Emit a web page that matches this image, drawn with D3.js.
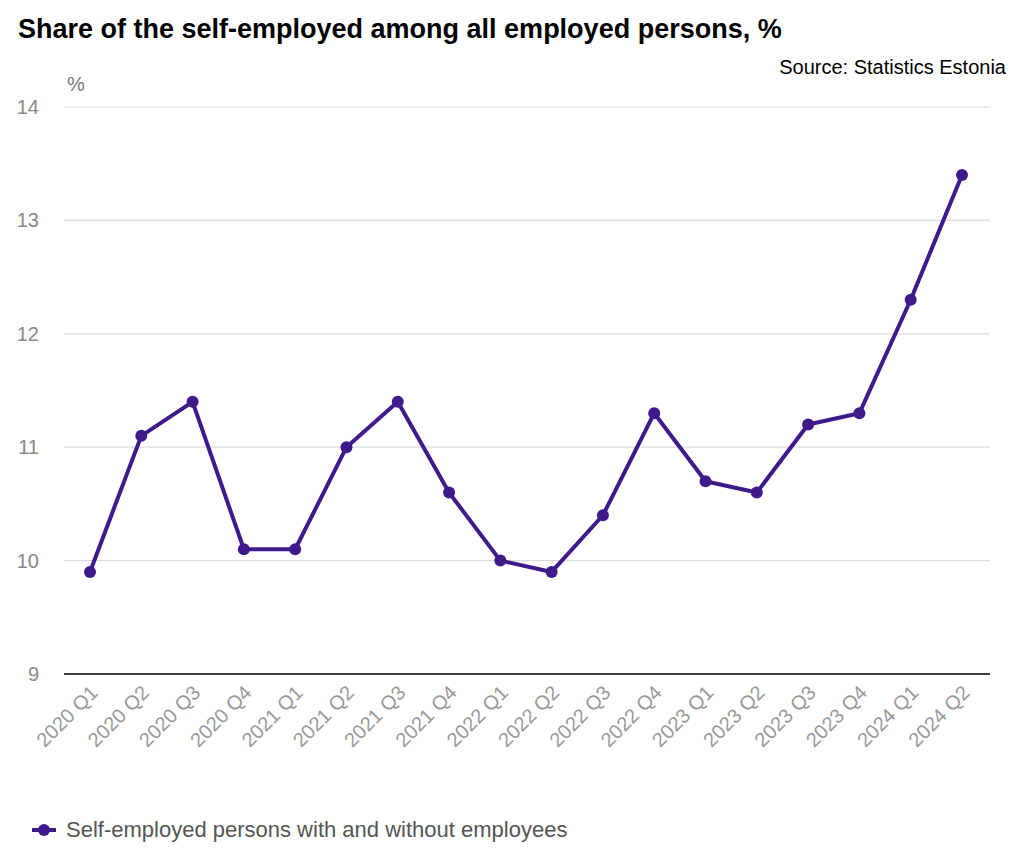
<!DOCTYPE html>
<html><head><meta charset="utf-8">
<script src="https://cdn.jsdelivr.net/npm/d3@7"></script>
<style>body{margin:0;background:#fff;font-family:"Liberation Sans",Arial,sans-serif;}</style>
</head><body>
<svg id="chart" width="1024" height="853"></svg>
<script>
const categories = ["2020 Q1","2020 Q2","2020 Q3","2020 Q4","2021 Q1","2021 Q2","2021 Q3","2021 Q4","2022 Q1","2022 Q2","2022 Q3","2022 Q4","2023 Q1","2023 Q2","2023 Q3","2023 Q4","2024 Q1","2024 Q2"];
const values = [9.9,11.1,11.4,10.1,10.1,11.0,11.4,10.6,10.0,9.9,10.4,11.3,10.7,10.6,11.2,11.3,12.3,13.4];
const yTicks = [9,10,11,12,13,14];
const seriesName = "Self-employed persons with and without employees";
const title = "Share of the self-employed among all employed persons, %";
const source = "Source: Statistics Estonia";

const svg = d3.select("#chart");
const color = "#3f1a8b";
const x = d3.scalePoint().domain(categories).range([90, 962]);
const y = d3.scaleLinear().domain([9,14]).range([674,107]);

svg.append("text").attr("x",18).attr("y",38).attr("font-size",27).attr("font-weight","bold").attr("fill","#000").text(title);
svg.append("text").attr("x",1006).attr("y",74).attr("text-anchor","end").attr("font-size",20).attr("fill","#000").text(source);
svg.append("text").attr("x",67).attr("y",91).attr("font-size",20).attr("fill","#777").text("%");

// grid
svg.append("g").selectAll("line").data(yTicks.filter(d=>d!==9)).join("line")
  .attr("x1",64).attr("x2",990).attr("y1",d=>y(d)).attr("y2",d=>y(d))
  .attr("stroke","#dcdcdc").attr("stroke-width",1.2);
svg.append("line").attr("x1",64).attr("x2",990).attr("y1",y(9)).attr("y2",y(9)).attr("stroke","#000").attr("stroke-width",1.5);

// y tick labels
svg.append("g").selectAll("text").data(yTicks).join("text")
  .attr("x",39).attr("y",d=>y(d)+7).attr("text-anchor","end")
  .attr("font-size",20).attr("fill","#888").text(d=>d);

// x labels
svg.append("g").selectAll("text").data(categories).join("text")
  .attr("text-anchor","end").attr("font-size",20).attr("fill","#999")
  .attr("transform",d=>`translate(${x(d)+9},${694}) rotate(-45)`)
  .text(d=>d);

// line
svg.append("path").datum(values)
  .attr("d", d3.line().x((d,i)=>x(categories[i])).y(d=>y(d)))
  .attr("fill","none").attr("stroke",color).attr("stroke-width",4).attr("stroke-linejoin","round");
svg.append("g").selectAll("circle").data(values).join("circle")
  .attr("cx",(d,i)=>x(categories[i])).attr("cy",d=>y(d)).attr("r",6).attr("fill",color);

// legend
svg.append("line").attr("x1",32).attr("x2",56).attr("y1",830).attr("y2",830).attr("stroke",color).attr("stroke-width",4);
svg.append("circle").attr("cx",44).attr("cy",830).attr("r",6).attr("fill",color);
svg.append("text").attr("x",66).attr("y",837).attr("font-size",22).attr("fill","#555").text(seriesName);
</script>
</body></html>
